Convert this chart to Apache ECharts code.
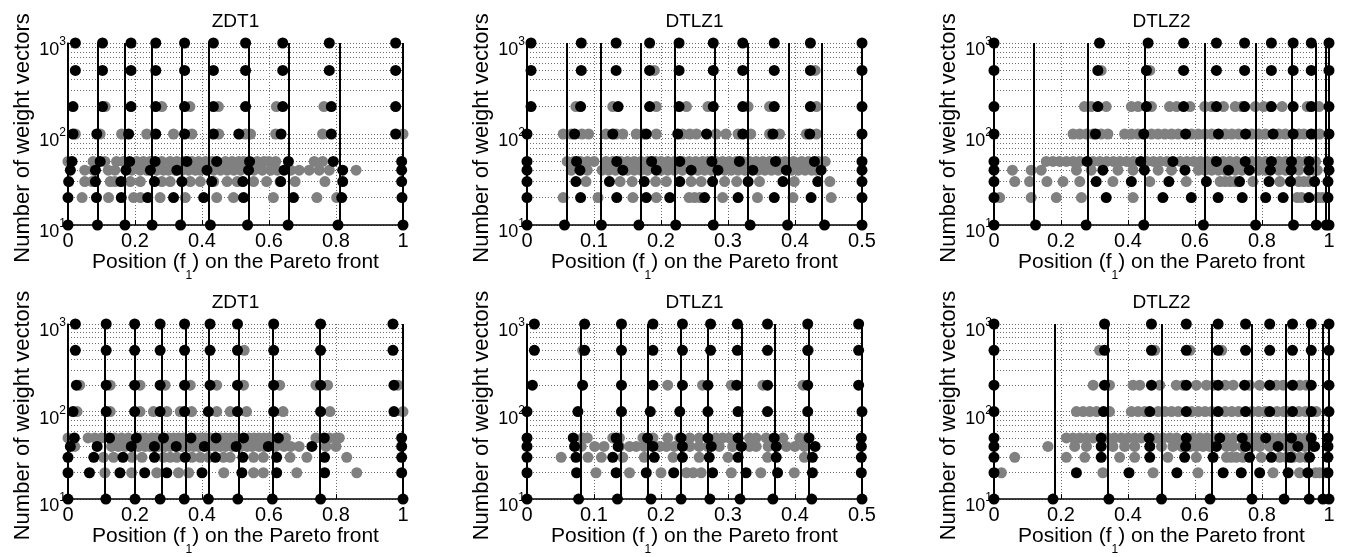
<!DOCTYPE html>
<html><head><meta charset="utf-8">
<script src="https://cdn.jsdelivr.net/npm/echarts@6/dist/echarts.min.js"></script>
<style>html,body{margin:0;padding:0;background:#fff}#c{width:1346px;height:557px}</style>
</head><body><div id="c"></div>
<script>
// y levels (number of weight vectors) for the rows of dots
const levels = [10, 20, 30, 40, 50, 100, 200, 500, 1000];
// minor horizontal grid values
const minorGrid = [20, 30, 40, 50, 60, 70, 80, 90, 200, 300, 400, 500, 600, 700, 800, 900];
const titles = ['ZDT1', 'DTLZ1', 'DTLZ2', 'ZDT1', 'DTLZ1', 'DTLZ2'];
const xMax = [1, 0.5, 1, 1, 0.5, 1];
const xStep = [0.2, 0.1, 0.2, 0.2, 0.1, 0.2];
const yTicks = [10, 100, 1000];

// ---- Panel 1: ZDT1 (top) ----
const linesA = [0, 0.088, 0.170, 0.251, 0.336, 0.425, 0.536, 0.657, 0.806, 1.0];
const blackA = [
  [0, 0.088, 0.170, 0.251, 0.336, 0.425, 0.536, 0.657, 0.806, 1.0],
  [0, 0.085, 0.159, 0.238, 0.315, 0.405, 0.524, 0.673, 0.817, 0.997],
  [0.002, 0.082, 0.158, 0.258, 0.34, 0.429, 0.522, 0.635, 0.82, 0.996],
  [0.007, 0.082, 0.173, 0.246, 0.325, 0.415, 0.539, 0.645, 0.82, 0.996],
  [0.012, 0.096, 0.184, 0.26, 0.355, 0.444, 0.542, 0.658, 0.792, 0.996],
  [0.015, 0.086, 0.181, 0.262, 0.348, 0.434, 0.51, 0.636, 0.786, 0.978],
  [0.015, 0.103, 0.188, 0.262, 0.348, 0.434, 0.53, 0.641, 0.786, 0.978],
  [0.022, 0.103, 0.188, 0.262, 0.348, 0.434, 0.53, 0.641, 0.78, 0.978],
  [0.022, 0.103, 0.188, 0.262, 0.348, 0.434, 0.53, 0.641, 0.78, 0.978]
];
const greyA = [
  [],
  [0.042, 0.121, 0.196, 0.216, 0.275, 0.35, 0.444, 0.494, 0.613, 0.743, 0.802],
  [0.05, 0.072, 0.126, 0.14, 0.186, 0.216, 0.28, 0.305, 0.365, 0.395, 0.435, 0.475, 0.505, 0.554, 0.593, 0.633, 0.678, 0.767],
  [0.05, 0.075, 0.12, 0.14, 0.19, 0.215, 0.235, 0.265, 0.285, 0.3, 0.32, 0.34, 0.36, 0.38, 0.395, 0.435, 0.455, 0.475, 0.495, 0.515, 0.555, 0.58, 0.605, 0.625, 0.665, 0.69, 0.72, 0.75, 0.78, 0.86],
  [0.0, 0.075, 0.11, 0.145, 0.165, 0.205, 0.225, 0.245, 0.28, 0.305, 0.325, 0.345, 0.37, 0.39, 0.41, 0.43, 0.47, 0.49, 0.51, 0.525, 0.565, 0.585, 0.6, 0.62, 0.735, 0.76],
  [0.022, 0.096, 0.16, 0.235, 0.315, 0.37, 0.45, 0.53, 0.545, 0.62, 0.76, 1.0],
  [0.111, 0.28, 0.364, 0.449, 0.622, 0.764],
  [],
  []
];

// ---- Panel 2: DTLZ1 (top) ----
const linesB = [0, 0.056, 0.111, 0.167, 0.222, 0.278, 0.333, 0.389, 0.444, 0.5];
const blackB = [
  [0, 0.056, 0.111, 0.167, 0.222, 0.278, 0.333, 0.389, 0.444, 0.5],
  [0, 0.080, 0.134, 0.178, 0.213, 0.265, 0.315, 0.369, 0.424, 0.5],
  [0, 0.073, 0.123, 0.175, 0.228, 0.277, 0.330, 0.382, 0.434, 0.5],
  [0, 0.079, 0.143, 0.193, 0.245, 0.285, 0.337, 0.387, 0.439, 0.5],
  [0, 0.074, 0.134, 0.186, 0.228, 0.276, 0.317, 0.371, 0.429, 0.5],
  [0, 0.071, 0.128, 0.178, 0.225, 0.268, 0.322, 0.367, 0.422, 0.5],
  [0.006, 0.08, 0.136, 0.183, 0.227, 0.278, 0.322, 0.369, 0.423, 0.5],
  [0.006, 0.081, 0.133, 0.183, 0.227, 0.278, 0.322, 0.369, 0.423, 0.5],
  [0.006, 0.081, 0.133, 0.183, 0.227, 0.278, 0.322, 0.369, 0.423, 0.5]
];
const greyB = [
  [],
  [0.054, 0.106, 0.158, 0.193, 0.242, 0.25, 0.258, 0.292, 0.344, 0.397, 0.454],
  [0.088, 0.139, 0.157, 0.192, 0.208, 0.245, 0.26, 0.295, 0.313, 0.347, 0.399, 0.452],
  [0.066, 0.08, 0.09, 0.112, 0.122, 0.132, 0.15, 0.16, 0.17, 0.18, 0.2, 0.21, 0.22, 0.232, 0.255, 0.265, 0.275, 0.295, 0.305, 0.315, 0.325, 0.345, 0.355, 0.365, 0.375, 0.395, 0.405, 0.415, 0.425, 0.432],
  [0.06, 0.07, 0.08, 0.09, 0.1, 0.118, 0.128, 0.14, 0.15, 0.16, 0.17, 0.18, 0.192, 0.2, 0.21, 0.22, 0.232, 0.242, 0.252, 0.262, 0.27, 0.282, 0.292, 0.302, 0.312, 0.322, 0.332, 0.342, 0.352, 0.362, 0.375, 0.385, 0.398, 0.41, 0.42, 0.435, 0.445],
  [0.054, 0.066, 0.082, 0.092, 0.118, 0.133, 0.143, 0.163, 0.173, 0.193, 0.232, 0.243, 0.253, 0.282, 0.297, 0.315, 0.334, 0.362, 0.377, 0.417, 0.432],
  [0.073, 0.128, 0.193, 0.238, 0.27, 0.33, 0.362, 0.432],
  [0.19, 0.43],
  []
];

// ---- Panel 3: DTLZ2 (top) ----
const linesC = [0, 0.124, 0.275, 0.447, 0.625, 0.781, 0.894, 0.962, 0.992, 1.0];
const blackC = [
  [0, 0.124, 0.275, 0.447, 0.625, 0.781, 0.894, 0.962, 0.992, 1.0],
  [0, 0.335, 0.504, 0.589, 0.669, 0.741, 0.811, 0.863, 0.94, 0.997],
  [0, 0.305, 0.41, 0.522, 0.634, 0.733, 0.821, 0.885, 0.957, 0.997],
  [0, 0.325, 0.449, 0.57, 0.70, 0.762, 0.825, 0.887, 0.94, 1.0],
  [0, 0.278, 0.438, 0.534, 0.664, 0.75, 0.828, 0.888, 0.941, 0.998],
  [0, 0.303, 0.447, 0.572, 0.67, 0.751, 0.833, 0.893, 0.947, 1.0],
  [0, 0.31, 0.455, 0.566, 0.664, 0.748, 0.828, 0.893, 0.947, 1.0],
  [0, 0.31, 0.455, 0.566, 0.664, 0.748, 0.828, 0.893, 0.947, 1.0],
  [0, 0.315, 0.46, 0.566, 0.664, 0.748, 0.828, 0.893, 0.947, 1.0]
];
const greyC = [
  [],
  [0.017, 0.111, 0.186, 0.261, 0.415, 0.905, 0.918, 0.968, 0.98, 0.992],
  [0.062, 0.106, 0.158, 0.206, 0.256, 0.355, 0.465, 0.574, 0.675, 0.69, 0.705, 0.72, 0.773, 0.853, 0.91, 0.925, 0.94],
  [0.055, 0.111, 0.141, 0.246, 0.29, 0.37, 0.415, 0.49, 0.53, 0.61, 0.63, 0.65, 0.67, 0.69, 0.72, 0.74, 0.79, 0.81, 0.85, 0.87, 0.91, 0.955, 0.965],
  [0.156, 0.176, 0.196, 0.216, 0.236, 0.256, 0.296, 0.316, 0.336, 0.356, 0.376, 0.396, 0.416, 0.456, 0.476, 0.496, 0.516, 0.556, 0.576, 0.596, 0.616, 0.636, 0.656, 0.684, 0.704, 0.724, 0.77, 0.79, 0.81, 0.85, 0.87, 0.91, 0.93, 0.96],
  [0.236, 0.256, 0.276, 0.296, 0.32, 0.34, 0.39, 0.41, 0.43, 0.47, 0.49, 0.51, 0.53, 0.55, 0.59, 0.61, 0.63, 0.65, 0.69, 0.71, 0.73, 0.77, 0.79, 0.81, 0.85, 0.87, 0.91, 0.925, 0.96, 0.972],
  [0.27, 0.29, 0.335, 0.41, 0.43, 0.47, 0.524, 0.545, 0.585, 0.629, 0.65, 0.685, 0.72, 0.74, 0.78, 0.805, 0.825, 0.86, 0.935, 0.97],
  [0.32, 0.465],
  []
];

// ---- Panel 4: ZDT1 (bottom) ----
const linesD = [0, 0.113, 0.2, 0.275, 0.347, 0.419, 0.507, 0.61, 0.754, 1.0];
const blackD = [
  [0, 0.113, 0.2, 0.275, 0.347, 0.419, 0.507, 0.61, 0.754, 1.0],
  [0, 0.064, 0.155, 0.229, 0.295, 0.40, 0.519, 0.623, 0.766, 0.996],
  [0, 0.077, 0.164, 0.258, 0.35, 0.44, 0.522, 0.623, 0.766, 0.996],
  [0.007, 0.087, 0.189, 0.258, 0.323, 0.407, 0.502, 0.598, 0.728, 0.996],
  [0.019, 0.124, 0.204, 0.285, 0.367, 0.442, 0.524, 0.628, 0.765, 0.996],
  [0.015, 0.114, 0.199, 0.275, 0.348, 0.419, 0.506, 0.614, 0.754, 0.973],
  [0.025, 0.114, 0.199, 0.275, 0.348, 0.424, 0.506, 0.614, 0.754, 0.973],
  [0.022, 0.114, 0.199, 0.275, 0.348, 0.424, 0.506, 0.614, 0.754, 0.97],
  [0.022, 0.114, 0.199, 0.275, 0.348, 0.424, 0.506, 0.614, 0.754, 0.97]
];
const greyD = [
  [],
  [0.11, 0.19, 0.265, 0.33, 0.36, 0.465, 0.554, 0.583, 0.683, 0.862],
  [0.106, 0.136, 0.191, 0.221, 0.285, 0.305, 0.325, 0.37, 0.395, 0.42, 0.464, 0.484, 0.554, 0.583, 0.663, 0.713, 0.832],
  [0.02, 0.13, 0.15, 0.17, 0.21, 0.23, 0.245, 0.27, 0.29, 0.305, 0.34, 0.36, 0.375, 0.39, 0.42, 0.44, 0.455, 0.47, 0.49, 0.515, 0.535, 0.55, 0.57, 0.585, 0.62, 0.645, 0.665, 0.69, 0.77, 0.8],
  [0.0, 0.06, 0.08, 0.1, 0.14, 0.16, 0.18, 0.215, 0.23, 0.25, 0.265, 0.3, 0.315, 0.33, 0.345, 0.38, 0.395, 0.41, 0.425, 0.455, 0.47, 0.485, 0.5, 0.54, 0.555, 0.57, 0.585, 0.6, 0.65, 0.74, 0.78, 0.8, 0.81],
  [0.027, 0.126, 0.215, 0.255, 0.295, 0.335, 0.369, 0.444, 0.484, 0.533, 0.642, 0.782, 1.0],
  [0.035, 0.126, 0.215, 0.29, 0.365, 0.444, 0.524, 0.632, 0.74, 0.775, 0.985],
  [0.526],
  []
];

// ---- Panel 5: DTLZ1 (bottom) ----
const linesE = [0, 0.077, 0.135, 0.185, 0.23, 0.273, 0.318, 0.367, 0.425, 0.5];
const blackE = [
  [0, 0.077, 0.135, 0.185, 0.23, 0.273, 0.318, 0.367, 0.425, 0.5],
  [0, 0.074, 0.133, 0.178, 0.219, 0.277, 0.327, 0.374, 0.426, 0.499],
  [0, 0.073, 0.128, 0.19, 0.232, 0.272, 0.315, 0.372, 0.426, 0.499],
  [0, 0.071, 0.136, 0.188, 0.232, 0.275, 0.32, 0.372, 0.43, 0.499],
  [0, 0.069, 0.133, 0.18, 0.23, 0.27, 0.315, 0.369, 0.421, 0.499],
  [0, 0.076, 0.141, 0.184, 0.228, 0.27, 0.315, 0.359, 0.419, 0.5],
  [0.008, 0.083, 0.141, 0.188, 0.232, 0.27, 0.313, 0.359, 0.419, 0.495],
  [0.011, 0.086, 0.141, 0.188, 0.232, 0.274, 0.314, 0.359, 0.419, 0.495],
  [0.011, 0.086, 0.141, 0.188, 0.232, 0.274, 0.314, 0.359, 0.419, 0.495]
];
const greyE = [
  [],
  [0.103, 0.153, 0.2, 0.238, 0.248, 0.26, 0.305, 0.349, 0.399],
  [0.051, 0.091, 0.111, 0.143, 0.175, 0.218, 0.257, 0.3, 0.359, 0.414],
  [0.081, 0.101, 0.115, 0.138, 0.153, 0.163, 0.175, 0.198, 0.208, 0.22, 0.243, 0.257, 0.27, 0.287, 0.307, 0.332, 0.342, 0.36, 0.387, 0.4, 0.414],
  [0.083, 0.09, 0.128, 0.138, 0.173, 0.188, 0.21, 0.228, 0.243, 0.257, 0.282, 0.292, 0.302, 0.332, 0.342, 0.357, 0.382, 0.407, 0.417],
  [],
  [0.21, 0.262, 0.305, 0.352, 0.412],
  [0.083, 0.42],
  []
];

// ---- Panel 6: DTLZ2 (bottom) ----
const linesF = [0, 0.176, 0.343, 0.5, 0.645, 0.77, 0.866, 0.941, 0.982, 1.0];
const blackF = [
  [0, 0.176, 0.343, 0.5, 0.645, 0.77, 0.866, 0.941, 0.982, 1.0],
  [0, 0.246, 0.403, 0.546, 0.684, 0.738, 0.793, 0.878, 0.937, 0.997],
  [0, 0.32, 0.465, 0.569, 0.654, 0.763, 0.828, 0.885, 0.942, 0.997],
  [0, 0.32, 0.465, 0.572, 0.664, 0.751, 0.848, 0.907, 0.957, 0.997],
  [0, 0.32, 0.463, 0.574, 0.674, 0.741, 0.811, 0.888, 0.947, 0.997],
  [0, 0.327, 0.465, 0.574, 0.669, 0.751, 0.823, 0.891, 0.947, 1.0],
  [0, 0.33, 0.47, 0.574, 0.669, 0.748, 0.823, 0.891, 0.947, 1.0],
  [0, 0.33, 0.47, 0.574, 0.669, 0.751, 0.823, 0.891, 0.947, 1.0],
  [0, 0.33, 0.47, 0.574, 0.669, 0.751, 0.823, 0.891, 0.947, 1.0]
];
const greyF = [
  [],
  [0.022, 0.325, 0.475, 0.609, 0.833, 0.912, 0.96, 0.972, 0.985],
  [0.062, 0.216, 0.271, 0.375, 0.42, 0.519, 0.604, 0.694, 0.708, 0.723, 0.743, 0.798, 0.853, 0.873, 0.893, 0.913, 0.932],
  [0.161, 0.241, 0.276, 0.355, 0.39, 0.42, 0.5, 0.534, 0.56, 0.585, 0.604, 0.624, 0.644, 0.694, 0.713, 0.74, 0.77, 0.793, 0.823, 0.873, 0.89, 0.927, 0.95],
  [0.216, 0.236, 0.256, 0.276, 0.296, 0.34, 0.36, 0.38, 0.4, 0.42, 0.44, 0.485, 0.505, 0.525, 0.545, 0.595, 0.615, 0.635, 0.655, 0.695, 0.715, 0.76, 0.78, 0.79, 0.83, 0.85, 0.87, 0.91, 0.93],
  [0.246, 0.266, 0.286, 0.306, 0.345, 0.41, 0.43, 0.45, 0.49, 0.51, 0.53, 0.55, 0.59, 0.61, 0.63, 0.65, 0.69, 0.71, 0.73, 0.77, 0.79, 0.81, 0.845, 0.865, 0.875, 0.91, 0.93, 0.962],
  [0.296, 0.345, 0.415, 0.435, 0.495, 0.544, 0.565, 0.604, 0.634, 0.655, 0.69, 0.714, 0.763, 0.793, 0.843, 0.863, 0.893, 0.913, 0.932],
  [0.315, 0.48, 0.585, 0.68],
  []
];

const panelLines = [linesA, linesB, linesC, linesD, linesE, linesF];
const panelBlack = [blackA, blackB, blackC, blackD, blackE, blackF];
const panelGrey = [greyA, greyB, greyC, greyD, greyE, greyF];

// ---- layout ----
const FONT = '"Liberation Sans", Arial, Helvetica, sans-serif';
const gridLefts = [68, 527, 994];
const gridTops = [43, 324];
const gridW = 335, gridH = 182;

function toPoints(rows) {
  const out = [];
  rows.forEach((row, r) => row.forEach(x => out.push([x, levels[r]])));
  return out;
}

const grids = [], xAxes = [], yAxes = [], series = [], graphics = [];
const dotted = { type: [1, 2], color: '#6e6e6e', width: 1 };

for (let p = 0; p < 6; p++) {
  const col = p % 3, row = Math.floor(p / 3);
  grids.push({ left: gridLefts[col], top: gridTops[row], width: gridW, height: gridH, containLabel: false });
  xAxes.push({
    gridIndex: p, type: 'value', min: 0, max: xMax[p], interval: xStep[p],
    axisLine: { show: true, onZero: false, lineStyle: { color: '#000', width: 1.5 } },
    axisTick: { show: true, inside: true, length: 5, lineStyle: { color: '#000' } },
    axisLabel: { color: '#000', fontSize: 20, fontFamily: FONT, margin: 6 },
    splitLine: { show: true, lineStyle: dotted },
    name: '{a|Position (f}{s|1}{a|) on the Pareto front}',
    nameLocation: 'middle', nameGap: 24,
    nameTextStyle: {
      color: '#000', fontFamily: FONT,
      rich: {
        a: { fontSize: 21, fontFamily: FONT, color: '#000', lineHeight: 22, verticalAlign: 'top' },
        s: { fontSize: 12, fontFamily: FONT, color: '#000', lineHeight: 14, padding: [18, 0, 0, 0], verticalAlign: 'top' }
      }
    }
  });
  yAxes.push({
    gridIndex: p, type: 'log', logBase: 10, min: 10, max: 1000,
    axisLine: { show: true, onZero: false, lineStyle: { color: '#000', width: 1.5 } },
    axisTick: { show: true, inside: true, length: 5, lineStyle: { color: '#000' } },
    axisLabel: {
      margin: 2,
      formatter: v => '{b|10}{s|' + Math.round(Math.log10(v)) + '}',
      rich: {
        b: { fontSize: 18, fontFamily: FONT, color: '#000', lineHeight: 20, padding: [8, 0, 0, 0], verticalAlign: 'top' },
        s: { fontSize: 12, fontFamily: FONT, color: '#000', lineHeight: 14, padding: [3, 0, 0, 0], verticalAlign: 'top' }
      }
    },
    splitLine: { show: true, lineStyle: dotted },
    name: 'Number of weight vectors', nameLocation: 'middle', nameGap: 34, nameRotate: 90,
    nameTextStyle: { color: '#000', fontSize: 22, fontFamily: FONT, padding: [0, 8, 0, 0] }
  });
  // minor horizontal grid (dotted)
  series.push({
    type: 'line', xAxisIndex: p, yAxisIndex: p, data: [], silent: true,
    markLine: {
      z: 1, silent: true, symbol: ['none', 'none'], label: { show: false },
      lineStyle: dotted, emphasis: { disabled: true },
      data: minorGrid.map(v => ({ yAxis: v }))
    }
  });
  // grey dots
  series.push({
    type: 'scatter', xAxisIndex: p, yAxisIndex: p, z: 2, silent: true,
    symbol: 'circle', symbolSize: 11, itemStyle: { color: '#808080', opacity: 1 },
    data: toPoints(panelGrey[p])
  });
  // vertical black lines
  series.push({
    type: 'line', xAxisIndex: p, yAxisIndex: p, data: [], silent: true,
    markLine: {
      z: 3, silent: true, symbol: ['none', 'none'], label: { show: false },
      lineStyle: { color: '#000', width: 2, type: 'solid', opacity: 1 }, emphasis: { disabled: true },
      data: panelLines[p].map(x => ({ xAxis: x }))
    }
  });
  // black dots
  series.push({
    type: 'scatter', xAxisIndex: p, yAxisIndex: p, z: 4, silent: true,
    symbol: 'circle', symbolSize: 11, itemStyle: { color: '#000', opacity: 1 },
    data: toPoints(panelBlack[p])
  });
  graphics.push({
    type: 'text', x: gridLefts[col] + gridW / 2, y: row === 0 ? 22 : 303,
    style: { text: titles[p], font: '19px ' + FONT, fill: '#000',
             align: 'center', verticalAlign: 'middle', textAlign: 'center', textVerticalAlign: 'middle' }
  });
}

const chart = echarts.init(document.getElementById('c'), null, { renderer: 'canvas' });
chart.setOption({
  animation: false,
  backgroundColor: '#fff',
  grid: grids, xAxis: xAxes, yAxis: yAxes, series: series, graphic: graphics
});
</script></body></html>
